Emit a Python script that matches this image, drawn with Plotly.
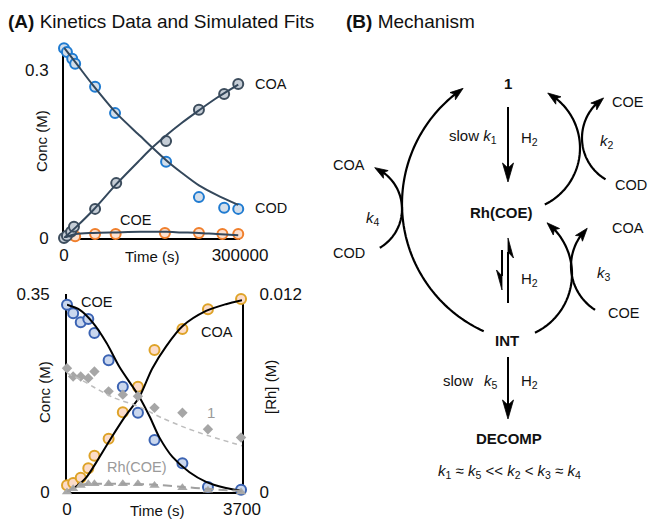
import numpy as np
import plotly.graph_objects as go

W, H = 649, 519
FONT = "Liberation Sans, Arial, Helvetica, sans-serif"

# ---------------- Panel A (top): long-time kinetics ----------------
top_t_cod = [0, 5000, 14000, 19000, 53000, 87000, 174000, 230000, 273000, 297000]
top_cod = [0.339, 0.332, 0.32, 0.311, 0.27, 0.223, 0.136, 0.073, 0.054, 0.052]
top_t_coa = [0, 5000, 12000, 17000, 53000, 89000, 174000, 230000, 273000, 297000]
top_coa = [0.0, 0.004, 0.011, 0.02, 0.052, 0.098, 0.173, 0.229, 0.257, 0.275]
top_t_coe = [19000, 53000, 88000, 172000, 230000, 270000, 297000]
top_coe = [0.003, 0.007, 0.007, 0.009, 0.009, 0.007, 0.007]

top_fit_t = [0, 20000, 50000, 90000, 130000, 150000, 175000, 200000, 230000, 260000, 297000]
top_fit_cod = [0.34, 0.313, 0.272, 0.222, 0.182, 0.162, 0.138, 0.117, 0.094, 0.077, 0.059]
top_fit_coa = [0.0, 0.019, 0.05, 0.097, 0.14, 0.161, 0.184, 0.205, 0.228, 0.25, 0.274]
top_fit_coe = [0.0, 0.007, 0.009, 0.01, 0.011, 0.011, 0.011, 0.01, 0.009, 0.007, 0.005]

# ---------------- Panel A (bottom): short-time kinetics ----------------
bot_t = [0, 130, 290, 450, 580, 880, 1180, 1500, 1850, 2440, 2980, 3680]
bot_coe = [0.331, 0.316, 0.3, 0.306, 0.281, 0.233, 0.186, 0.14, 0.092, 0.051, 0.009, 0.004]
bot_coa = [0.012, 0.016, 0.025, 0.042, 0.064, 0.094, 0.141, 0.186, 0.251, 0.288, 0.323, 0.341]
bot_rh1 = [0.0075, 0.0070, 0.0070, 0.0069, 0.0073, 0.0061, 0.0059, 0.0058, 0.0051, 0.0048, 0.0038, 0.0033]
bot_rhcoe = [0.0, 0.0002, 0.0004, 0.0005, 0.0005, 0.0005, 0.0005, 0.0005, 0.0004, 0.00025, 0.0001, 0.0]

bfit_coe_t = [0, 270, 550, 840, 1110, 1390, 1530, 1750, 1950, 2230, 2590, 2940, 3360, 3700]
bfit_coe = [0.331, 0.322, 0.299, 0.263, 0.221, 0.186, 0.168, 0.133, 0.097, 0.062, 0.035, 0.018, 0.007, 0.002]
bfit_coa_t = [0, 130, 400, 660, 930, 1240, 1530, 1800, 2100, 2440, 2940, 3360, 3700]
bfit_coa = [0.0, 0.006, 0.025, 0.058, 0.095, 0.135, 0.168, 0.218, 0.258, 0.293, 0.32, 0.332, 0.339]
bfit_rh1_t = [0, 300, 600, 1000, 1500, 2000, 2500, 3000, 3700]
bfit_rh1 = [0.0072, 0.0068, 0.0063, 0.0057, 0.0052, 0.0045, 0.0039, 0.0034, 0.0028]
bfit_rhcoe_t = [0, 150, 300, 600, 1200, 1800, 2400, 3000, 3700]
bfit_rhcoe = [0.0, 0.0003, 0.00045, 0.0005, 0.0005, 0.00045, 0.00032, 0.00018, 0.00006]


def px(x):
    return x / W


def py(y):
    return 1 - y / H


fig = go.Figure()


def circles(x, y, edge, fill, xa, ya):
    fig.add_trace(go.Scatter(x=x, y=y, mode="markers", xaxis=xa, yaxis=ya,
                             cliponaxis=False, showlegend=False, hoverinfo="skip",
                             marker=dict(size=10, color=fill, line=dict(color=edge, width=2))))


def line(x, y, color, xa, ya, width=2, dash="solid"):
    fig.add_trace(go.Scatter(x=x, y=y, mode="lines", xaxis=xa, yaxis=ya,
                             cliponaxis=False, showlegend=False, hoverinfo="skip",
                             line=dict(color=color, width=width, dash=dash, shape="spline", smoothing=0.8)))


# top plot
circles(top_t_coe, top_coe, "#f07f2c", "#fbe0cf", "x", "y")
circles(top_t_cod, top_cod, "#1f7bd1", "#d3deea", "x", "y")
circles(top_t_coa, top_coa, "#3d4d5d", "#c5cdd6", "x", "y")
for yy in (top_fit_cod, top_fit_coa, top_fit_coe):
    line(top_fit_t, yy, "#34485c", "x", "y")

# bottom plot
fig.add_trace(go.Scatter(x=bot_t, y=bot_rh1, mode="markers", xaxis="x2", yaxis="y3",
                         cliponaxis=False, showlegend=False, hoverinfo="skip",
                         marker=dict(symbol="diamond", size=8, color="#a6a6a6")))
fig.add_trace(go.Scatter(x=bot_t, y=bot_rhcoe, mode="markers", xaxis="x2", yaxis="y3",
                         cliponaxis=False, showlegend=False, hoverinfo="skip",
                         marker=dict(symbol="triangle-up", size=9, color="#a9a9a9")))
line(bfit_rh1_t, bfit_rh1, "#bdbdbd", "x2", "y3", width=1.5, dash="5px,4px")
line(bfit_rhcoe_t, bfit_rhcoe, "#a0a0a0", "x2", "y3", width=2, dash="9px,5px")
circles(bot_t, bot_coe, "#3b63b3", "#cad7ee", "x2", "y2")
circles(bot_t, bot_coa, "#dea328", "#fcdcc9", "x2", "y2")
line(bfit_coe_t, bfit_coe, "#000000", "x2", "y2")
line(bfit_coa_t, bfit_coa, "#000000", "x2", "y2")

ax_common = dict(showgrid=False, zeroline=False, showline=True, linecolor="black",
                 linewidth=2, layer="below traces", automargin=False, fixedrange=True,
                 tickfont=dict(family=FONT, size=17, color="#111"))

fig.update_layout(
    width=W, height=H, margin=dict(l=0, r=0, t=0, b=0, pad=0, autoexpand=False),
    paper_bgcolor="white", plot_bgcolor="rgba(0,0,0,0)",
    font=dict(family=FONT, color="#111"), hovermode=False,
    xaxis=dict(domain=[px(64), px(240)], range=[0, 300000], anchor="y",
               tickvals=[0, 300000], ticktext=["0", "300000"], ticks="inside",
               ticklen=5, tickwidth=2, tickcolor="black", ticklabelstandoff=1, **ax_common),
    yaxis=dict(domain=[py(238), py(47.6)], range=[0, 0.34], anchor="x",
               tickvals=[0, 0.3], ticktext=["0", "0.3"], ticks="", ticklabelstandoff=10,
               **ax_common),
    xaxis2=dict(domain=[px(67), px(242)], range=[0, 3700], anchor="y2",
                tickvals=[0, 3700], ticktext=["0", "3700"], ticks="", ticklabelstandoff=1,
                **ax_common),
    yaxis2=dict(domain=[py(492), py(294)], range=[0, 0.35], anchor="x2",
                tickvals=[0, 0.35], ticktext=["0", "0.35"], ticks="", ticklabelstandoff=12,
                **ax_common),
    yaxis3=dict(domain=[py(492), py(294)], range=[0, 0.012], anchor="x2",
                overlaying="y2", side="right",
                tickvals=[0, 0.012], ticktext=["0", "0.012"], ticks="inside",
                ticklen=5, tickwidth=2, tickcolor="black", ticklabelstandoff=12,
                **ax_common),
)

ann = []


def text(x, y, s, size=15, color="#111", xanchor="center", angle=0):
    ann.append(dict(x=px(x), y=py(y), xref="paper", yref="paper", text=s, showarrow=False,
                    xanchor=xanchor, yanchor="middle", textangle=angle,
                    font=dict(family=FONT, size=size, color=color)))


# titles
text(6, 21, "<b>(A)</b> Kinetics Data and Simulated Fits", size=19, xanchor="left")
text(344, 21, "<b>(B)</b> Mechanism", size=19, xanchor="left")

# panel A labels
text(41, 141, "Conc (M)", angle=-90)
text(152, 256, "Time (s)")
text(271, 84, "COA", size=14.5)
text(271, 208, "COD", size=14.5)
text(136, 220, "COE", size=14.5)

text(44, 392, "Conc (M)", angle=-90)
text(270, 387, "[Rh] (M)", angle=-90)
text(157, 510, "Time (s)")
text(97, 302, "COE", size=14.5)
text(217, 332, "COA", size=14.5)
text(211, 412, "1", size=15, color="#9a9a9a")
text(137, 467, "Rh(COE)", size=14.5, color="#9a9a9a")

# ---------------- Panel B: mechanism diagram ----------------
shapes = []


def pstr(pts, close=False):
    s = ""
    for i, (x, y) in enumerate(pts):
        s += ("M" if i == 0 else " L") + f"{px(x):.5f},{py(y):.5f}"
    return s + (" Z" if close else "")


def add_line(pts, width=2):
    shapes.append(dict(type="path", xref="paper", yref="paper", path=pstr(pts),
                       line=dict(color="black", width=width)))


def add_head(tip, d, L, hw, notch, half=None):
    tip = np.array(tip, float)
    d = np.array(d, float)
    d = d / np.linalg.norm(d)
    n = np.array([-d[1], d[0]])
    back = tip - L * d
    mid = tip - (L - notch) * d
    if half is None:
        pts = [tip, back + hw * n, mid, back - hw * n]
    else:
        pts = [tip, back + half * hw * n, mid]
    shapes.append(dict(type="path", xref="paper", yref="paper", path=pstr(pts, True),
                       fillcolor="black", line=dict(color="black", width=0.8)))


def arc_arrow(cx, cy, r, a0, a1, L=13, hw=4.5, notch=3):
    sgn = 1 if a1 > a0 else -1
    trim = np.degrees((L - notch - 1) / r)
    ang = np.radians(np.linspace(a0, a1 - sgn * trim, 80))
    pts = list(zip(cx + r * np.cos(ang), cy + r * np.sin(ang)))
    add_line(pts, width=2.2)
    ta = np.radians(a1)
    tip = (cx + r * np.cos(ta), cy + r * np.sin(ta))
    ba = np.radians(a1 - sgn * np.degrees(L / r))
    back = (cx + r * np.cos(ba), cy + r * np.sin(ba))
    add_head(tip, (tip[0] - back[0], tip[1] - back[1]), L, hw, notch)


# straight arrows
add_line([(508, 107), (508, 168)])
add_head((508, 182), (0, 1), 19, 5.5, 5)
add_line([(508, 357), (508, 405)])
add_head((508, 419), (0, 1), 19, 5.5, 5)

# equilibrium half arrows
add_line([(502, 250), (502, 276)])
add_head((502, 290), (0, 1), 20, 5.5, 6, half=1)
add_line([(508, 303), (508, 252)])
add_head((508, 238), (0, -1), 20, 5.5, 6, half=1)

# curved arrows
arc_arrow(542, 204, 140, 114.6, 235.7)
arc_arrow(507, 274, 65, 64.5, -52)
arc_arrow(623, 266, 52, 122.5, 226.5)
arc_arrow(517, 148, 63, 63.8, -60.8)
arc_arrow(630, 138, 48, 120.6, 236.6)
arc_arrow(357, 209, 45, 59.6, -66.8)

# mechanism labels
text(508, 83, "<b>1</b>", size=15)
text(499, 137, "slow <i>k</i><sub>1</sub>", size=15, xanchor="right")
text(519, 138, "H<sub>2</sub>", size=15, xanchor="left")
text(501, 213, "<b>Rh(COE)</b>", size=15)
text(519, 279, "H<sub>2</sub>", size=15, xanchor="left")
text(507, 340, "<b>INT</b>", size=15)
text(458, 380, "slow", size=15)
text(491, 381, "<i>k</i><sub>5</sub>", size=15)
text(519, 381, "H<sub>2</sub>", size=15, xanchor="left")
text(509, 438, "<b>DECOMP</b>", size=15)
text(509, 471, "<i>k</i><sub>1</sub> ≈ <i>k</i><sub>5</sub> &lt;&lt; <i>k</i><sub>2</sub> &lt; "
              "<i>k</i><sub>3</sub> ≈ <i>k</i><sub>4</sub>", size=15)

text(349, 165, "COA", size=14.5)
text(373, 218, "<i>k</i><sub>4</sub>", size=15)
text(349, 253, "COD", size=14.5)
text(628, 102, "COE", size=14.5)
text(607, 141, "<i>k</i><sub>2</sub>", size=15)
text(631, 185, "COD", size=14.5)
text(628, 228, "COA", size=14.5)
text(604, 273, "<i>k</i><sub>3</sub>", size=15)
text(624, 313, "COE", size=14.5)

fig.update_layout(annotations=ann, shapes=shapes)
fig.write_html("out.html", config={"displayModeBar": False, "staticPlot": True},
               post_script="document.body.style.margin='0';document.body.style.overflow='hidden';")
